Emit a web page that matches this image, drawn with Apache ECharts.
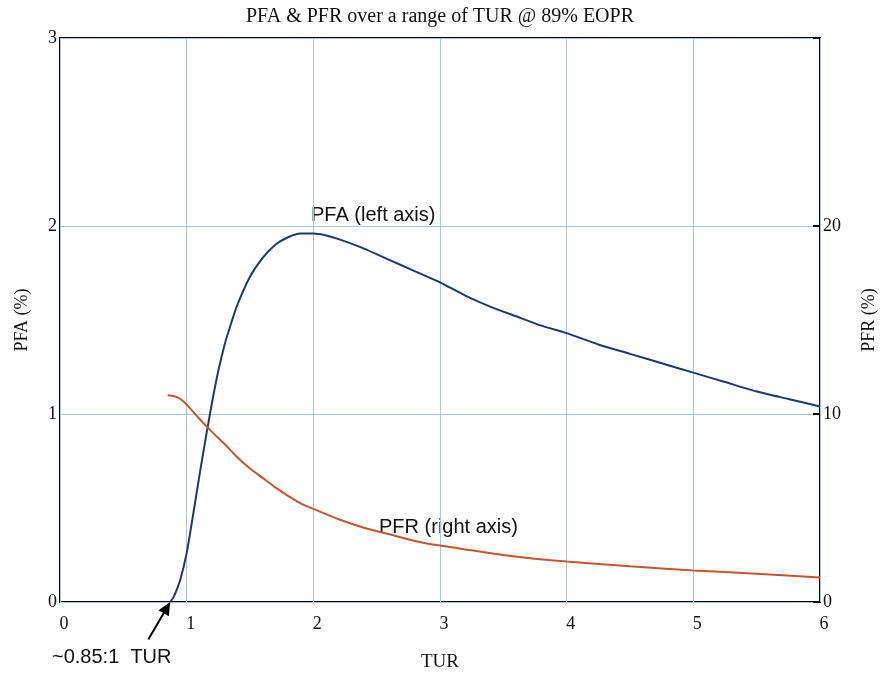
<!DOCTYPE html>
<html>
<head>
<meta charset="UTF-8">
<title>PFA & PFR over a range of TUR</title>
<script src="https://cdnjs.cloudflare.com/ajax/libs/echarts/6.0.0/echarts.min.js"></script>
<style>
    html, body { margin: 0; padding: 0; background: #fff; }
    #main { width: 880px; height: 675px; }
</style>
</head>
<body>
<div id="main"></div>
<script>
    // PFA (left axis, %) vs TUR
    const pfaTur = [0.87, 0.9, 0.95, 1.0, 1.05, 1.1, 1.15, 1.2, 1.25, 1.3, 1.35, 1.4, 1.5, 1.6, 1.7, 1.8, 1.9, 2.0,
                    2.1, 2.2, 2.4, 2.6, 2.8, 3.0, 3.2, 3.4, 3.6, 3.8, 4.0, 4.25, 4.5, 4.75, 5.0, 5.25, 5.5, 5.75, 6.0];
    const pfaVal = [0, 0.03, 0.12, 0.26, 0.46, 0.67, 0.87, 1.06, 1.23, 1.37, 1.48, 1.58, 1.73, 1.83, 1.9, 1.94, 1.96, 1.96,
                    1.95, 1.93, 1.88, 1.82, 1.76, 1.70, 1.63, 1.57, 1.52, 1.47, 1.43, 1.37, 1.32, 1.27, 1.22, 1.17, 1.12, 1.08, 1.04];

    // PFR (right axis, %) vs TUR
    const pfrTur = [0.85, 0.9, 0.95, 1.0, 1.1, 1.2, 1.3, 1.4, 1.5, 1.6, 1.7, 1.8, 1.9, 2.0, 2.2, 2.4, 2.6, 2.8,
                    3.0, 3.25, 3.5, 3.75, 4.0, 4.5, 5.0, 5.5, 6.0];
    const pfrVal = [11.0, 10.95, 10.8, 10.5, 9.75, 9.05, 8.4, 7.7, 7.1, 6.6, 6.1, 5.65, 5.25, 4.95, 4.4, 3.95, 3.6, 3.25,
                    3.0, 2.75, 2.5, 2.3, 2.15, 1.9, 1.68, 1.5, 1.3];

    // annotation arrow (TUR, PFA): from the label up to the PFA zero crossing
    const arrow = [0.697, -0.2, 0.87, 0];

    const serif = '"Liberation Serif", "DejaVu Serif", serif';
    const sans = '"Liberation Sans", Arial, sans-serif';
    const gridBlue = '#a8c6de';

    var chart = echarts.init(document.getElementById('main'));

    // arrow drawn in data coordinates
    function renderArrow(params, api) {
        var p1 = api.coord([api.value(0), api.value(1)]);
        var p2 = api.coord([api.value(2), api.value(3)]);
        var dx = p2[0] - p1[0], dy = p2[1] - p1[1];
        var len = Math.sqrt(dx * dx + dy * dy);
        var ux = dx / len, uy = dy / len;
        var headLen = 13, headW = 6;
        var bx = p2[0] - ux * headLen, by = p2[1] - uy * headLen;
        return {
            type: 'group',
            children: [{
                type: 'line',
                shape: { x1: p1[0], y1: p1[1], x2: bx, y2: by },
                style: { stroke: '#000', lineWidth: 2 }
            }, {
                type: 'polygon',
                shape: { points: [
                    [p2[0], p2[1]],
                    [bx - uy * headW, by + ux * headW],
                    [bx + uy * headW, by - ux * headW]
                ] },
                style: { fill: '#000' }
            }]
        };
    }

    var option = {
        backgroundColor: '#fff',
        animation: false,
        title: {
            text: 'PFA & PFR over a range of TUR @ 89% EOPR',
            left: 'center',
            top: 2,
            textStyle: { fontFamily: serif, fontSize: 20, fontWeight: 'normal', color: '#111' }
        },
        grid: {
            left: 60, right: 60, top: 38, bottom: 73,
            containLabel: false,
            outerBoundsMode: 'none',
            show: true, borderColor: '#000', borderWidth: 2
        },
        xAxis: {
            type: 'value',
            min: 0, max: 6, interval: 1,
            name: 'TUR',
            nameLocation: 'middle',
            nameGap: 51,
            nameTextStyle: { fontFamily: serif, fontSize: 19, color: '#111' },
            axisLine: { show: false },
            axisTick: { show: false },
            axisLabel: { fontFamily: serif, fontSize: 18, color: '#111', margin: 13, padding: [0, 0, 0, 8] },
            splitLine: { show: true, lineStyle: { color: gridBlue, width: 1 } }
        },
        yAxis: [{
            type: 'value',
            min: 0, max: 3, interval: 1,
            name: 'PFA (%)',
            nameLocation: 'middle',
            nameGap: 29,
            nameTextStyle: { fontFamily: serif, fontSize: 18, color: '#111' },
            axisLine: { show: false },
            axisTick: { show: false },
            axisLabel: { fontFamily: serif, fontSize: 18, color: '#111', margin: 3 },
            splitLine: { show: true, lineStyle: { color: gridBlue, width: 1 } }
        }, {
            type: 'value',
            min: 0, max: 30, interval: 10,
            position: 'right',
            name: 'PFR (%)',
            nameLocation: 'middle',
            nameGap: 40,
            nameRotate: 90,
            nameTextStyle: { fontFamily: serif, fontSize: 18, color: '#111' },
            axisLine: { show: false },
            axisTick: { show: true, inside: true, length: 7, lineStyle: { color: '#000', width: 2 } },
            axisLabel: {
                fontFamily: serif, fontSize: 18, color: '#111', margin: 3,
                formatter: function (v) { return v === 30 ? '' : v; }
            },
            splitLine: { show: false }
        }],
        series: [{
            name: 'PFA',
            type: 'line',
            yAxisIndex: 0,
            data: pfaTur.map((t, i) => [t, pfaVal[i]]),
            showSymbol: false,
            smooth: 0.2,
            lineStyle: { color: '#1e3a6b', width: 2 }
        }, {
            name: 'PFR',
            type: 'line',
            yAxisIndex: 1,
            data: pfrTur.map((t, i) => [t, pfrVal[i]]),
            showSymbol: false,
            smooth: 0.2,
            lineStyle: { color: '#c4562f', width: 2 }
        }, {
            name: 'arrow',
            type: 'custom',
            yAxisIndex: 0,
            clip: false,
            silent: true,
            renderItem: renderArrow,
            data: [arrow]
        }],
        graphic: [
            { type: 'text', left: 311, top: 205, style: { text: 'PFA (left axis)', fontFamily: sans, fontSize: 20, fill: '#111' } },
            { type: 'text', left: 379, top: 517, style: { text: 'PFR (right axis)', fontFamily: sans, fontSize: 20, fill: '#111' } },
            { type: 'text', left: 52, top: 647, style: { text: '~0.85:1  TUR', fontFamily: sans, fontSize: 20, fill: '#111' } }
        ]
    };

    chart.setOption(option);
</script>
</body>
</html>
